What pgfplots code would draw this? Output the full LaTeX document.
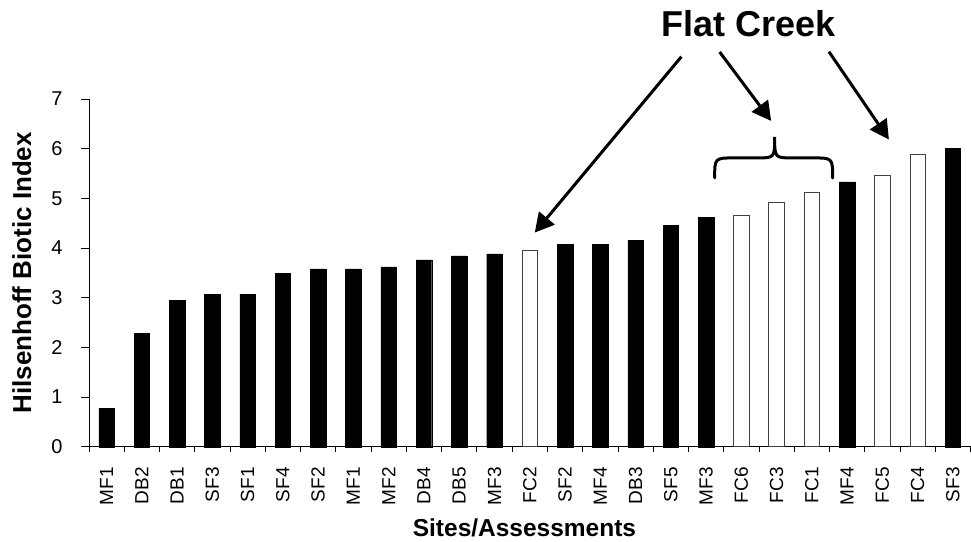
\documentclass[border=0pt]{standalone}
\usepackage{fontspec}
\setmainfont{Liberation Sans}
\usepackage{pgfplots}
\pgfplotsset{compat=1.18}
\usetikzlibrary{arrows.meta}
\begin{document}
\begin{tikzpicture}
\begin{axis}[
  width=882pt, height=348pt, scale only axis,
  xmin=-0.5, xmax=24.5, ymin=0, ymax=7,
  axis x line*=bottom, axis y line*=left,
  axis line style={-, line width=0.9pt},
  ytick={0,...,7},
  xtick={0,...,24},
  xticklabels={MF1,DB2,DB1,SF3,SF1,SF4,SF2,MF1,MF2,DB4,DB5,MF3,FC2,SF2,MF4,DB3,SF5,MF3,FC6,FC3,FC1,MF4,FC5,FC4,SF3},
  minor xtick={-0.5,0.5,...,24.5},
  tick align=outside,
  major tick length=8pt, minor tick length=5pt,
  major x tick style={draw=none},
  tick style={black, line width=0.8pt},
  /pgf/number format/assume math mode=true,
  yticklabel style={font=\fontsize{20}{20}\selectfont},
  yticklabel shift=15pt,
  xticklabel style={font=\fontsize{19}{19}\selectfont, rotate=90, anchor=east},
  xticklabel shift=9pt,
  ylabel={Hilsenhoff Biotic Index},
  xlabel={Sites/Assessments},
  ylabel style={font=\bfseries\fontsize{26}{26}\selectfont, at={(axis description cs:-0.076,0.5)}, anchor=center},
  xlabel style={font=\bfseries\fontsize{24.5}{24.5}\selectfont, at={(axis description cs:0.494,-0.2586)}, anchor=base},
  clip=false,
]
\addplot[ybar, bar width=0.44, bar shift=0pt, fill=black, draw=black] coordinates {
(0,0.77) (1,2.29) (2,2.95) (3,3.07) (4,3.07) (5,3.49) (6,3.58) (7,3.58) (8,3.62) (9,3.76) (10,3.84) (11,3.88)
(13,4.08) (14,4.08) (15,4.16) (16,4.45) (17,4.62) (21,5.33) (24,6.01)};
\addplot[ybar, bar width=0.44, bar shift=0pt, fill=white, draw=black!75, line width=0.8pt] coordinates {
(12,3.95) (18,4.66) (19,4.91) (20,5.12) (22,5.46) (23,5.88)};
\coordinate (O) at (axis cs:-0.5,0);
\end{axis}
\begin{scope}[shift={(O)}, xshift=-89pt, yshift=447pt, x=1pt, y=-1pt]
\draw[line width=3pt, -{Triangle[length=19pt,width=20pt]}] (681.7,56.7) -- (535,232.7);
\draw[line width=3pt, -{Triangle[length=19pt,width=20pt]}] (720,52) -- (771.5,121);
\draw[line width=3pt, -{Triangle[length=19pt,width=20pt]}] (829.3,51.7) -- (889.3,139.5);
\draw[line width=3pt, line cap=round] (715,178) .. controls (715,158) .. (735,158) -- (757,158) .. controls (775,158) .. (775,137) .. controls (775,158) .. (793,158) -- (813,158) .. controls (833,158) .. (833,178);
\node[font=\bfseries\fontsize{36}{36}\selectfont, anchor=base, inner sep=0pt] at (749,37) {Flat Creek};
\path (0,0) rectangle (971,542);
\end{scope}
\end{tikzpicture}
\end{document}
